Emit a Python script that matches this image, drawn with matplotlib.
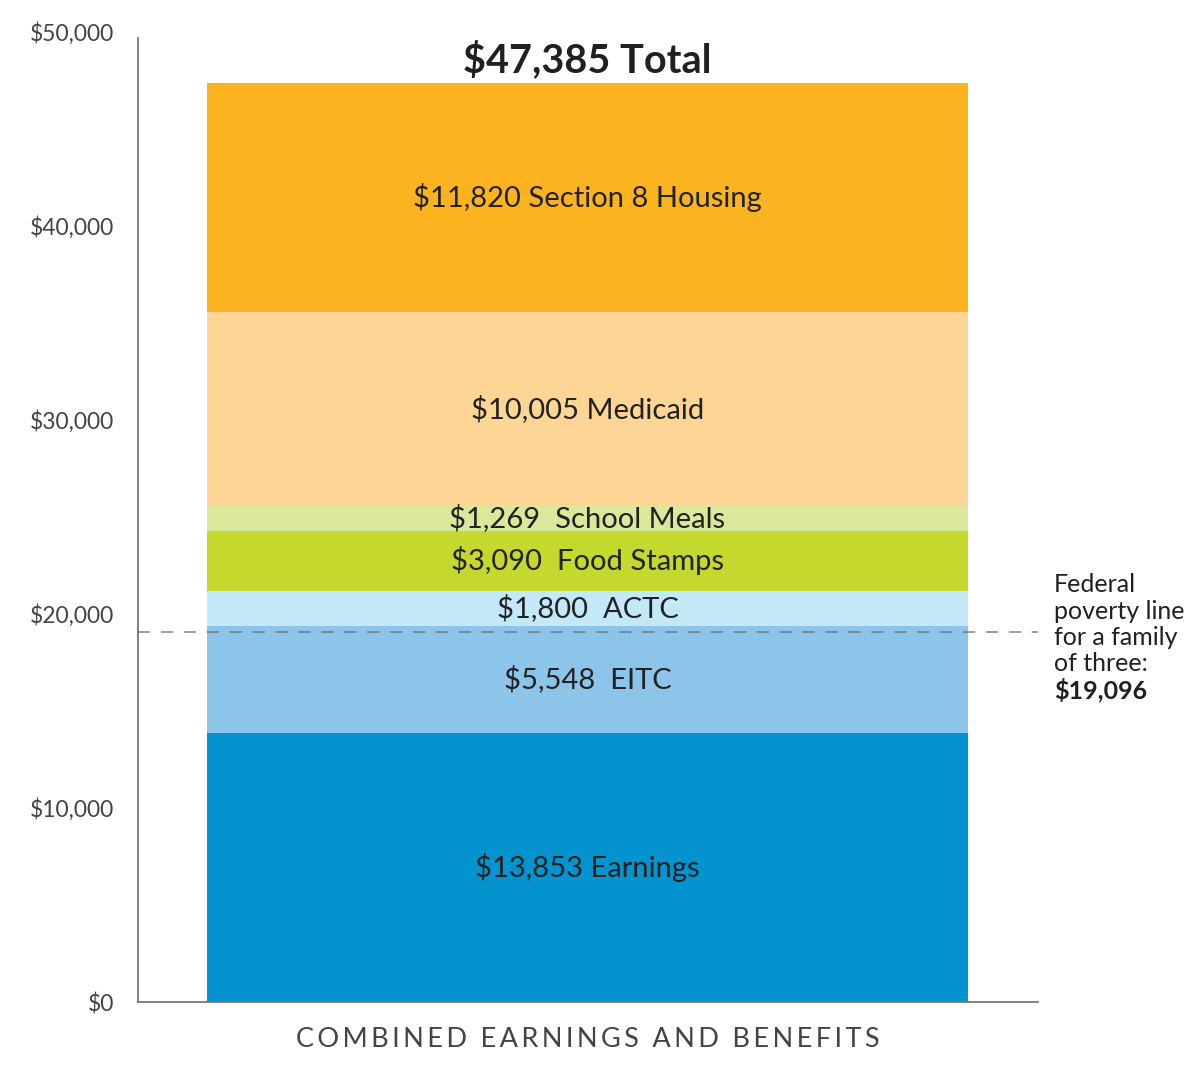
import matplotlib.pyplot as plt

plt.rcParams['font.family'] = ['Lato', 'DejaVu Sans']

# data (bottom to top)
segments = ['Earnings', 'EITC', 'ACTC', 'Food Stamps', 'School Meals',
            'Medicaid', 'Section 8 Housing']
amounts = [13853, 5548, 1800, 3090, 1269, 10005, 11820]
labels = ['$13,853 Earnings', '$5,548  EITC', '$1,800  ACTC',
          '$3,090  Food Stamps', '$1,269  School Meals',
          '$10,005 Medicaid', '$11,820 Section 8 Housing']
colors = ['#0394D0', '#8DC4EA', '#C3E8F8', '#C4D82E', '#DBE89C',
          '#FDD595', '#FBB41F']
poverty_line = 19096
yticks = [0, 10000, 20000, 30000, 40000, 50000]
ytick_labels = ['$0', '$10,000', '$20,000', '$30,000', '$40,000', '$50,000']
xlabel = 'COMBINED EARNINGS AND BENEFITS'

W, H = 1200, 1069
fig = plt.figure(figsize=(W / 100, H / 100), dpi=100)
ax = fig.add_axes([138 / W, 1 - 1002 / H, 900 / W, 970 / H])

bx, bw = 0.4994, 0.8456
bottom = 0
for amt, lab, col in zip(amounts, labels, colors):
    ax.bar(bx, amt, width=bw, bottom=bottom, color=col, linewidth=0)
    ax.text(bx, bottom + amt / 2, lab, ha='center', va='center',
            fontsize=21, color='#222222')
    bottom += amt

total = sum(amounts)
ax.text(bx, 0.971, f'${total:,} Total', transform=ax.get_xaxis_transform(),
        ha='center', va='center', fontsize=28.5, fontweight='bold', color='#231f20')

# poverty line
ax.axhline(poverty_line, color='#666666', alpha=0.8, lw=1.1,
           linestyle=(0, (8, 7)), zorder=3)

ax.set_xlim(0, 1)
ax.set_ylim(0, 50000)
ax.set_xticks([])
ax.set_yticks(yticks)
ax.set_yticklabels(ytick_labels, fontsize=16.5, color='#444444')
ax.tick_params(axis='y', length=0, pad=17)
for s in ['top', 'right']:
    ax.spines[s].set_visible(False)
for s in ['left', 'bottom']:
    ax.spines[s].set_color('#777777')
    ax.spines[s].set_linewidth(1.3)
ax.spines['left'].set_bounds(0, 49700)

# spaced-out x label
ax.set_xlabel('\u2009'.join(xlabel).replace('\u2009 \u2009', '\u2009\u2009\u2009\u2009'),
              fontsize=19.5, color='#444444', labelpad=18)

# annotation for poverty line
note_lines = ['Federal', 'poverty line', 'for a family', 'of three:']
for i, t in enumerate(note_lines):
    fig.text(1054 / W, 1 - (585 + 26.3 * i) / H, t, ha='left', va='center',
             fontsize=18, color='#231f20')
fig.text(1054 / W, 1 - 690 / H, f'${poverty_line:,}', ha='left', va='center',
         fontsize=18, fontweight='bold', color='#231f20')

fig.savefig('out.png', dpi=100)
